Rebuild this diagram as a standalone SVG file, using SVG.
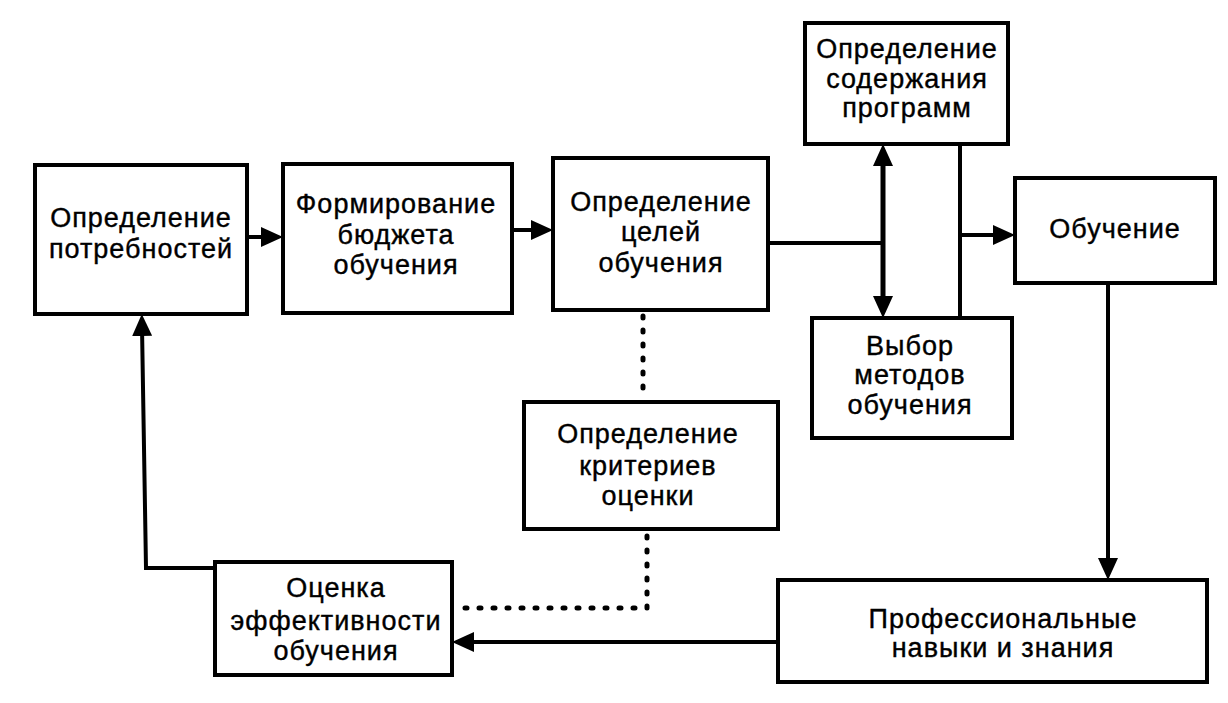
<svg xmlns="http://www.w3.org/2000/svg" width="1228" height="703" viewBox="0 0 1228 703">
<style>
  .box { fill: #fff; stroke: #000; stroke-width: 4; }
  .lbl { font-family: "Liberation Sans", Arial, sans-serif; font-size: 27px; letter-spacing: 1px; fill: #000; stroke: #000; stroke-width: 0.4; text-anchor: middle; }
  .ln { fill: none; stroke: #000; stroke-width: 4; }
  .thick { stroke-width: 5; }
  .dot { fill: none; stroke: #000; stroke-width: 5; stroke-linecap: round; stroke-dasharray: 2 12; }
</style>
<defs>
  <marker id="ah" viewBox="0 0 22 20" refX="9" refY="10" markerWidth="22" markerHeight="20" markerUnits="userSpaceOnUse" orient="auto-start-reverse">
    <path d="M0,0 L22,10 L0,20 z" fill="#000"/>
  </marker>
</defs>
<rect width="1228" height="703" fill="#fff"/>

<g id="connectors">
  <path class="ln" d="M247,237 H270" marker-end="url(#ah)"/>
  <path class="ln" d="M512,230 H540" marker-end="url(#ah)"/>
  <path class="ln" d="M768,243 H883"/>
  <path class="ln thick" d="M883,157 V305" marker-start="url(#ah)" marker-end="url(#ah)"/>
  <path class="ln" d="M960,144 V318"/>
  <path class="ln" d="M960,235 H1002" marker-end="url(#ah)"/>
  <path class="ln" d="M1108,283 V567" marker-end="url(#ah)"/>
  <path class="ln" d="M778,642 H465" marker-end="url(#ah)"/>
  <path class="ln" d="M215,568 H146 L142,327" marker-end="url(#ah)"/>
  <path class="dot" d="M643,316 V400"/>
  <path class="dot" d="M647,536 V608 H456"/>
</g>

<g id="n1">
  <rect class="box" x="35" y="165" width="212" height="149"/>
  <text class="lbl" x="141" y="227">Определение</text>
  <text class="lbl" x="141" y="258">потребностей</text>
</g>
<g id="n2">
  <rect class="box" x="283" y="164" width="229" height="149"/>
  <text class="lbl" x="396" y="213">Формирование</text>
  <text class="lbl" x="396" y="244">бюджета</text>
  <text class="lbl" x="396" y="274">обучения</text>
</g>
<g id="n3">
  <rect class="box" x="553" y="158" width="215" height="152"/>
  <text class="lbl" x="661" y="211">Определение</text>
  <text class="lbl" x="661" y="241">целей</text>
  <text class="lbl" x="661" y="272">обучения</text>
</g>
<g id="n4">
  <rect class="box" x="805" y="23" width="203" height="121"/>
  <text class="lbl" x="907" y="58">Определение</text>
  <text class="lbl" x="907" y="88">содержания</text>
  <text class="lbl" x="907" y="117">программ</text>
</g>
<g id="n5">
  <rect class="box" x="1015" y="178" width="200" height="105"/>
  <text class="lbl" x="1115" y="238">Обучение</text>
</g>
<g id="n6">
  <rect class="box" x="812" y="318" width="200" height="120"/>
  <text class="lbl" x="910" y="355">Выбор</text>
  <text class="lbl" x="910" y="384">методов</text>
  <text class="lbl" x="910" y="414">обучения</text>
</g>
<g id="n7">
  <rect class="box" x="524" y="402" width="254" height="127"/>
  <text class="lbl" x="648" y="443">Определение</text>
  <text class="lbl" x="648" y="475">критериев</text>
  <text class="lbl" x="648" y="505">оценки</text>
</g>
<g id="n8">
  <rect class="box" x="215" y="562" width="237" height="113"/>
  <text class="lbl" x="336" y="597">Оценка</text>
  <text class="lbl" x="336" y="630">эффективности</text>
  <text class="lbl" x="336" y="660">обучения</text>
</g>
<g id="n9">
  <rect class="box" x="778" y="580" width="429" height="102"/>
  <text class="lbl" x="1003" y="628">Профессиональные</text>
  <text class="lbl" x="1003" y="657">навыки и знания</text>
</g>
</svg>
